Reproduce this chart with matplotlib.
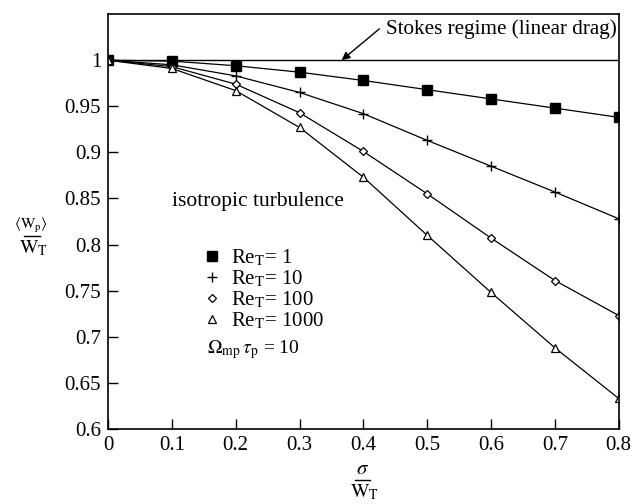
import matplotlib.pyplot as plt
from matplotlib.lines import Line2D
import numpy as np

plt.rcParams['font.family'] = ['Liberation Serif', 'DejaVu Serif']
plt.rcParams['mathtext.fontset'] = 'stix'

# sigma / W_T
x = [0.0, 0.1, 0.2, 0.3, 0.4, 0.5, 0.6, 0.7, 0.8]

# <W_p> / W_T for each Re_T
re1 = [1.0, 0.999, 0.994, 0.987, 0.978, 0.968, 0.958, 0.948, 0.938]
re10 = [1.0, 0.995, 0.983, 0.965, 0.942, 0.913, 0.885, 0.857, 0.828]
re100 = [1.0, 0.993, 0.974, 0.943, 0.901, 0.855, 0.807, 0.761, 0.723]
re1000 = [1.0, 0.991, 0.967, 0.927, 0.873, 0.810, 0.748, 0.688, 0.633]

labels = [r'Re$_{\mathrm{T}}$= 1', r'Re$_{\mathrm{T}}$= 10',
          r'Re$_{\mathrm{T}}$= 100', r'Re$_{\mathrm{T}}$= 1000']

xticks = [0, 0.1, 0.2, 0.3, 0.4, 0.5, 0.6, 0.7, 0.8]
xticklabels = ['0', '0.1', '0.2', '0.3', '0.4', '0.5', '0.6', '0.7', '0.8']
yticks = [0.6, 0.65, 0.7, 0.75, 0.8, 0.85, 0.9, 0.95, 1.0]
yticklabels = ['0.6', '0.65', '0.7', '0.75', '0.8', '0.85', '0.9', '0.95', '1']

fig = plt.figure(figsize=(6.32, 5.04), dpi=100)
ax = fig.add_axes([0.171, 0.149, 0.808, 0.823])

# Stokes line
ax.plot([0, 0.8], [1.0, 1.0], color='black', lw=1.0)

ax.plot(x, re1, '-', color='black', lw=0.9, marker='s', ms=6.5,
        mfc='black', mec='black', label=labels[0])
ax.plot(x, re10, '-', color='black', lw=0.9, marker='+', ms=7,
        mew=1.0, label=labels[1])
ax.plot(x, re100, '-', color='black', lw=0.9, marker='D', ms=4.5,
        mfc='white', mec='black', mew=0.9, label=labels[2])
ax.plot(x, re1000, '-', color='black', lw=0.9, marker='^', ms=6,
        mfc='white', mec='black', mew=0.9, label=labels[3])

ax.set_xlim(0, 0.8)
ax.set_ylim(0.6, 1.05)
ax.set_xticks(xticks)
ax.set_xticklabels(xticklabels)
ax.set_yticks(yticks)
ax.set_yticklabels(yticklabels)
ax.tick_params(direction='in', length=7, labelsize=15, width=1, pad=5)
for s in ax.spines.values():
    s.set_linewidth(1.2)

ax.text(0.435, 1.034, 'Stokes regime (linear drag)', fontsize=15.2,
        va='center', ha='left')
ax.annotate('', xy=(0.366, 1.0), xytext=(0.425, 1.034),
            arrowprops=dict(arrowstyle='-|>', color='black', lw=1.0,
                            shrinkA=0, shrinkB=0, mutation_scale=12))

ax.text(0.1, 0.847, 'isotropic turbulence', fontsize=15.5,
        ha='left', va='center')
leg = ax.legend(loc='upper left', bbox_to_anchor=(0.188, 0.437), frameon=False,
                fontsize=15, handlelength=0.8, handletextpad=0.5,
                labelspacing=0.02, borderpad=0, borderaxespad=0)
for h in leg.legend_handles:
    h.set_linestyle('none')

ax.text(0.155, 0.686, r'$\Omega_{\mathrm{mp}}\,\tau_{\mathrm{p}}$ = 10',
        fontsize=14, ha='left', va='center')

# y label as a stacked fraction
fig.text(0.049, 1 - 235 / 504, r'$\langle\mathrm{W_p}\rangle$',
         fontsize=11, ha='center', va='bottom')
fig.add_artist(Line2D([24 / 632, 40 / 632], [1 - 236 / 504] * 2,
                      transform=fig.transFigure, color='black', lw=1.0))
fig.text(0.053, 1 - 238 / 504, r'$\mathrm{W_T}$',
         fontsize=14, ha='center', va='top')

# x label as a stacked fraction
fig.text(363 / 632, 1 - 479 / 504, r'$\sigma$',
         fontsize=15, ha='center', va='bottom')
fig.add_artist(Line2D([355 / 632, 370 / 632], [1 - 480 / 504] * 2,
                      transform=fig.transFigure, color='black', lw=1.0))
fig.text(364 / 632, 1 - 482 / 504, r'$\mathrm{W_T}$',
         fontsize=14, ha='center', va='top')

fig.savefig('out.png', dpi=100)
